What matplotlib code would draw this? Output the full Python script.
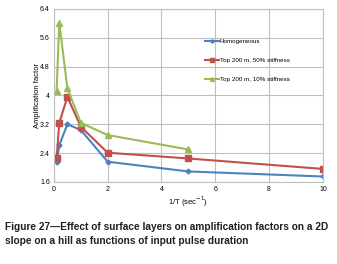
import matplotlib
matplotlib.use("Agg")
import matplotlib.pyplot as plt
from matplotlib import font_manager

x_vals = [0.1, 0.2, 0.5, 1, 2, 5, 10]
homogeneous = [2.14, 2.62, 3.20, 3.04, 2.16, 1.89, 1.75]
stiff50 = [2.25, 3.24, 3.96, 3.13, 2.41, 2.25, 1.96]
x_green = [0.1, 0.2, 0.5, 1, 2, 5]
stiff10 = [4.13, 6.02, 4.20, 3.24, 2.90, 2.50]
series_labels = ["Homogeneous", "Top 200 m, 50% stiffness", "Top 200 m, 10% stiffness"]
y_ticks = [1.6, 2.4, 3.2, 4, 4.8, 5.6, 6.4]
x_ticks = [0, 2, 4, 6, 8, 10]
caption = "Figure 27\u2014Effect of surface layers on amplification factors on a 2D\nslope on a hill as functions of input pulse duration"

names = {f.name for f in font_manager.fontManager.ttflist}
narrow = "Liberation Sans Narrow" if "Liberation Sans Narrow" in names else "Liberation Sans"
plt.rcParams['font.family'] = ['Liberation Sans', 'DejaVu Sans']

fig = plt.figure(figsize=(3.37, 2.64), dpi=100)
ax = fig.add_axes([0.160, 0.311, 0.798, 0.655])

ax.plot(x_vals, homogeneous, color="#4F81BD", marker="D", markersize=2.5, lw=1.5, label=series_labels[0])
ax.plot(x_vals, stiff50, color="#C0504D", marker="s", markersize=4, lw=1.5, label=series_labels[1])
ax.plot(x_green, stiff10, color="#9BBB59", marker="^", markersize=4, lw=1.5, label=series_labels[2])

ax.set_xlim(0, 10)
ax.set_ylim(1.6, 6.4)
ax.set_xticks(x_ticks)
ax.set_yticks(y_ticks)
ax.set_yticklabels([str(t) for t in y_ticks])
ax.grid(True, color="#BFBFBF", lw=0.8)
ax.set_axisbelow(True)
for s in ax.spines.values():
    s.set_color("#BFBFBF")
    s.set_linewidth(0.8)
ax.tick_params(length=0, labelsize=5, pad=3)
ax.set_xlabel("1/T (sec$^{-1}$)", fontsize=5.5, labelpad=1)
ax.set_ylabel("Amplification factor", fontsize=5.5, labelpad=-1)

leg = ax.legend(loc="upper left", bbox_to_anchor=(0.54, 0.86), fontsize=4.5, frameon=False,
                handlelength=2.2, labelspacing=2.2, handletextpad=0.2, markerscale=0.7)

fig.text(0.015, 0.07, caption, fontsize=7.3, fontweight="bold", family=[narrow, 'DejaVu Sans'],
         ha="left", va="bottom", linespacing=1.4, color="#231F20")

fig.savefig("out.png", dpi=100)
